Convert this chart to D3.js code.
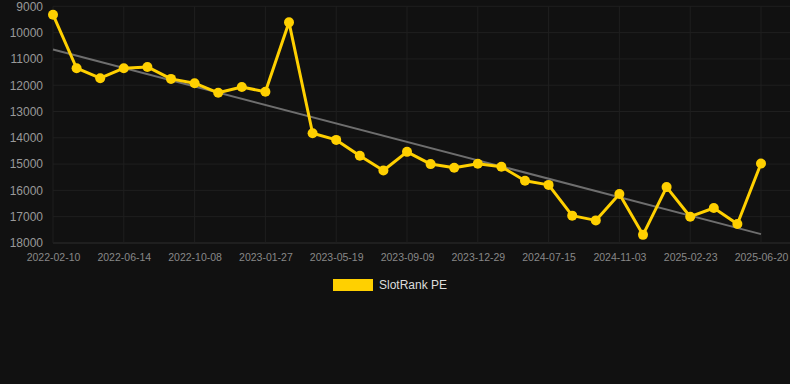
<!DOCTYPE html>
<html>
<head>
<meta charset="utf-8">
<script src="https://cdn.jsdelivr.net/npm/d3@7"></script>
<style>
  body { margin: 0; background: #111111; }
  svg { display: block; font-family: Arial, "Liberation Sans", sans-serif; }
</style>
</head>
<body>
<svg width="790" height="384"></svg>
<script>
var dates = ["2022-02-10", "2022-03-22", "2022-05-03", "2022-06-14", "2022-07-25", "2022-08-30",
    "2022-10-08", "2022-11-15", "2022-12-20", "2023-01-27", "2023-03-05", "2023-04-12",
    "2023-05-19", "2023-06-25", "2023-08-01", "2023-09-09", "2023-10-16", "2023-11-22",
    "2023-12-29", "2024-03-10", "2024-05-12", "2024-07-15", "2024-08-22", "2024-09-28",
    "2024-11-03", "2024-12-10", "2025-01-16", "2025-02-23", "2025-04-01", "2025-05-12",
    "2025-06-20"];

var ranks = [9320, 11355, 11735, 11355, 11305, 11760, 11925, 12290, 12070, 12250, 9610,
    13825, 14080, 14685, 15245, 14535, 15000, 15140, 14990, 15100, 15630, 15790,
    16960, 17140, 16140, 17690, 15875, 17000, 16670, 17280, 14980];

var yTicks = [9000, 10000, 11000, 12000, 13000, 14000, 15000, 16000, 17000, 18000];
var xTickDates = ["2022-02-10", "2022-06-14", "2022-10-08", "2023-01-27", "2023-05-19",
    "2023-09-09", "2023-12-29", "2024-07-15", "2024-11-03", "2025-02-23", "2025-06-20"];

var seriesName = "SlotRank PE";

function draw() {
    var svg = d3.select("svg");
    var left = 53, right = 761, topY = 6.3, bottom = 243;

    var xs = d3.scalePoint().domain(dates).range([left, right]);
    var ys = d3.scaleLinear().domain([9000, 18000]).range([topY, bottom]);

    // grid
    var grid = svg.append("g");
    grid.selectAll("line.h")
        .data(yTicks)
        .enter()
        .append("line")
            .attr("x1", left).attr("x2", 790)
            .attr("y1", function(d) { return ys(d); })
            .attr("y2", function(d) { return ys(d); })
            .attr("stroke", function(d) { return d == 18000 ? "#2e2e2e" : "#1f1f1f"; })
            .attr("stroke-width", 1);
    grid.selectAll("line.v")
        .data(xTickDates)
        .enter()
        .append("line")
            .attr("x1", function(d) { return xs(d); })
            .attr("x2", function(d) { return xs(d); })
            .attr("y1", topY).attr("y2", bottom)
            .attr("stroke", "#1f1f1f")
            .attr("stroke-width", 1);

    // axes
    var yAxis = d3.axisLeft(ys).tickValues(yTicks).tickSize(0).tickPadding(10)
        .tickFormat(d3.format("d"));
    var xAxis = d3.axisBottom(xs).tickValues(xTickDates).tickSize(0).tickPadding(11);

    var gy = svg.append("g")
        .attr("transform", "translate(" + left + ",0)")
        .call(yAxis);
    gy.select(".domain").remove();
    gy.selectAll("text")
        .attr("fill", "#999999")
        .style("font-size", "12px");

    var gx = svg.append("g")
        .attr("transform", "translate(0," + bottom + ")")
        .call(xAxis);
    gx.select(".domain").remove();
    gx.selectAll("text")
        .attr("fill", "#888888")
        .style("font-size", "10.5px");

    // trend line from least squares
    var n = ranks.length;
    var mx = (n - 1) / 2;
    var my = d3.mean(ranks);
    var num = 0, den = 0;
    ranks.forEach(function(d, i) {
        num += (i - mx) * (d - my);
        den += (i - mx) * (i - mx);
    });
    var slope = num / den;
    var icpt = my - slope * mx;

    svg.append("line")
        .attr("x1", xs(dates[0]))
        .attr("y1", ys(icpt))
        .attr("x2", xs(dates[n - 1]))
        .attr("y2", ys(icpt + slope * (n - 1)))
        .attr("stroke", "#6e6e6e")
        .attr("stroke-width", 2);

    // series
    var line = d3.line()
        .x(function(d, i) { return xs(dates[i]); })
        .y(function(d) { return ys(d); });

    svg.append("path")
        .datum(ranks)
        .attr("d", line)
        .attr("fill", "none")
        .attr("stroke", "#ffd000")
        .attr("stroke-width", 3)
        .attr("stroke-linejoin", "round");

    svg.append("g")
        .selectAll("circle")
        .data(ranks)
        .enter()
        .append("circle")
            .attr("cx", function(d, i) { return xs(dates[i]); })
            .attr("cy", function(d) { return ys(d); })
            .attr("r", 5)
            .attr("fill", "#ffd000");

    // legend
    var legend = svg.append("g").attr("transform", "translate(333,279)");
    legend.append("rect")
        .attr("width", 40).attr("height", 12)
        .attr("fill", "#ffd000");
    legend.append("text")
        .attr("x", 46).attr("y", 6)
        .attr("dy", "0.35em")
        .attr("fill", "#dddddd")
        .style("font-size", "12px")
        .text(seriesName);
}

draw();
</script>
</body>
</html>
